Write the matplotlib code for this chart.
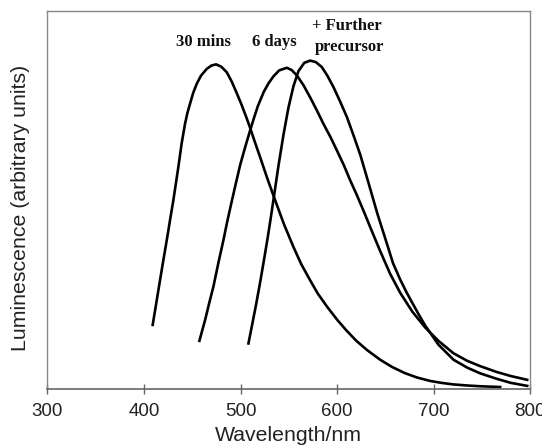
import matplotlib
matplotlib.use("Agg")
import matplotlib.pyplot as plt

# wavelengths (nm) and relative luminescence
wl_30min = [409, 413, 416.6, 420, 423.6, 427, 430.4, 433, 435.6, 439, 442.5, 445,
            447.7, 451, 454.7, 459, 465, 470, 474.7, 480, 485.8, 491, 496.1, 501,
            506.5, 510, 515, 520.3, 528, 535.9, 545, 554.8, 563, 572.1, 580, 589.4,
            600, 610.2, 620, 630.9, 644.7, 657, 670, 683, 696.5, 708, 720, 735,
            748.4, 769]
lum_30min = [0.170, 0.232, 0.288, 0.340, 0.394, 0.447, 0.499, 0.543, 0.587, 0.649,
             0.701, 0.730, 0.754, 0.783, 0.807, 0.828, 0.846, 0.855, 0.858, 0.852,
             0.837, 0.812, 0.782, 0.752, 0.715, 0.690, 0.652, 0.613, 0.555, 0.499,
             0.436, 0.376, 0.330, 0.288, 0.253, 0.219, 0.184, 0.154, 0.128, 0.104,
             0.078, 0.059, 0.043, 0.031, 0.022, 0.017, 0.013, 0.010, 0.008, 0.006]

wl_6days = [457.4, 463.3, 467.5, 471.9, 477, 482.3, 486, 490, 495, 499.6, 505, 510,
            514, 518, 524, 529, 534, 540, 548, 553, 558.3, 565, 572.1, 579, 585.9,
            593, 599.8, 607, 613.6, 620.5, 628, 636, 644.7, 655, 665.4, 678, 691.4,
            705, 720.7, 735, 748.4, 765, 780, 797]
lum_6days = [0.128, 0.183, 0.227, 0.271, 0.333, 0.394, 0.440, 0.486, 0.542, 0.592,
             0.641, 0.684, 0.717, 0.748, 0.785, 0.808, 0.826, 0.842, 0.849, 0.843,
             0.829, 0.804, 0.771, 0.737, 0.701, 0.667, 0.631, 0.592, 0.552, 0.513,
             0.468, 0.418, 0.365, 0.305, 0.255, 0.205, 0.163, 0.128, 0.095, 0.075,
             0.061, 0.046, 0.035, 0.025]

wl_further = [508.2, 512, 516, 520.3, 524, 528, 531, 534.1, 539.3, 544.5, 549.6,
              554.8, 560, 566, 572.1, 578, 584.2, 590, 596.3, 603, 610.2, 617,
              624, 632.6, 642, 651.6, 658, 665.4, 672, 678, 685, 691.4, 705, 720.7,
              735, 748.4, 765, 780, 797]
lum_further = [0.121, 0.170, 0.222, 0.282, 0.337, 0.398, 0.447, 0.500, 0.590, 0.672,
               0.743, 0.800, 0.840, 0.862, 0.868, 0.864, 0.851, 0.828, 0.798, 0.761,
               0.719, 0.671, 0.620, 0.545, 0.462, 0.385, 0.333, 0.290, 0.256, 0.228,
               0.196, 0.168, 0.118, 0.078, 0.057, 0.042, 0.028, 0.017, 0.009]

x_ticks = [300, 400, 500, 600, 700, 800]

fig = plt.figure(figsize=(5.42, 4.45), dpi=100)
ax = fig.add_axes([0.0876, 0.1252, 0.8904, 0.8510])

for wl, lum in [(wl_30min, lum_30min), (wl_6days, lum_6days), (wl_further, lum_further)]:
    ax.plot(wl, lum, color="black", lw=1.9, solid_joinstyle="round")

ax.set_xlim(300, 800)
ax.set_ylim(0, 1)
ax.set_xticks(x_ticks)
ax.set_yticks([])
ax.tick_params(axis="x", direction="inout", length=7, width=1, color="#666666",
               pad=6.5, labelsize=13.5, labelcolor="#222222")
for side in ["top", "left", "right"]:
    ax.spines[side].set_color("#888888")
    ax.spines[side].set_linewidth(1)
ax.spines["bottom"].set_color("#666666")
ax.spines["bottom"].set_linewidth(1.2)
for lab in ax.get_xticklabels():
    lab.set_fontfamily("Liberation Sans")

ax.set_xlabel("Wavelength/nm", fontsize=15.3, family="Liberation Sans", color="#222222")
ax.set_ylabel("Luminescence (arbitrary units)", fontsize=15.3, family="Liberation Sans",
              color="#222222")
ax.xaxis.set_label_coords(0.50, -0.097)
ax.yaxis.set_label_coords(-0.036, 0.48)

serif = dict(family="Liberation Serif", fontweight="bold", fontsize=12,
             ha="center", va="center", color="#111111")
ax.text(462, 0.916, "30 mins", **serif)
ax.text(534.8, 0.918, "6 days", **serif)
ax.text(610, 0.960, "+ Further", **serif)
ax.text(613, 0.903, "precursor", **serif)

fig.savefig("out.png", dpi=100)
